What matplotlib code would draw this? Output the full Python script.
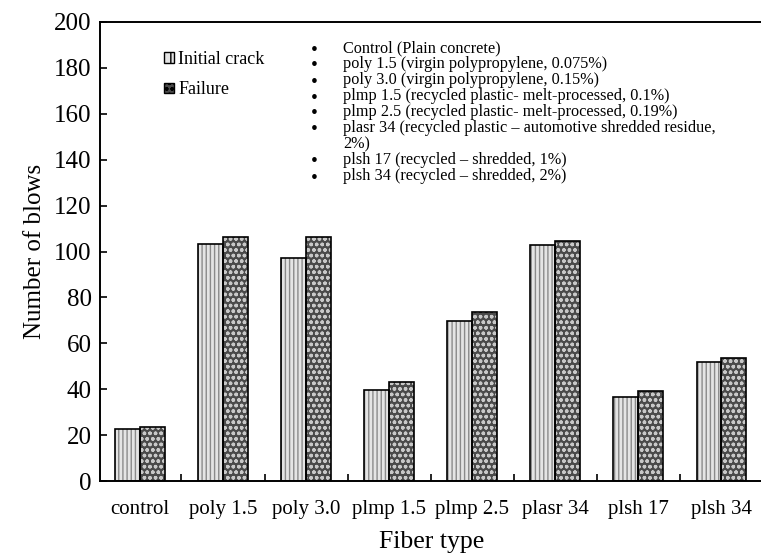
import matplotlib
matplotlib.use("Agg")
import matplotlib.pyplot as plt
import numpy as np
from matplotlib.patches import Patch

categories = ["control", "poly 1.5", "poly 3.0", "plmp 1.5", "plmp 2.5", "plasr 34", "plsh 17", "plsh 34"]
initial_crack = [22.6, 103.2, 97.2, 39.5, 69.6, 102.9, 36.8, 51.8]
failure = [23.5, 106.4, 106.4, 43.0, 73.7, 104.6, 39.3, 53.6]
yticks = list(range(0, 201, 20))
notes = [
    ("•", "Control (Plain concrete)"),
    ("•", "poly 1.5 (virgin polypropylene, 0.075%)"),
    ("•", "poly 3.0 (virgin polypropylene, 0.15%)"),
    ("•", "plmp 1.5 (recycled plastic- melt-processed, 0.1%)"),
    ("•", "plmp 2.5 (recycled plastic- melt-processed, 0.19%)"),
    ("•", "plasr 34 (recycled plastic \u2013 automotive shredded residue,"),
    ("", "2%)"),
    ("•", "plsh 17 (recycled \u2013 shredded, 1%)"),
    ("•", "plsh 34 (recycled \u2013 shredded, 2%)"),
]

plt.rcParams['font.family'] = ['Liberation Serif', 'DejaVu Serif']
plt.rcParams['hatch.linewidth'] = 1.0

W, H = 761, 554
fig = plt.figure(figsize=(W / 100, H / 100), dpi=100)
ax = fig.add_axes([100 / W, 73 / H, 663 / W, 459 / H])

x = np.arange(len(categories))
bw = 0.3

plt.rcParams['hatch.color'] = '#8a8a8a'
ax.bar(x - bw / 2, initial_crack, bw, color='#e4e4e4', hatch='||||', edgecolor='#8a8a8a', linewidth=0, zorder=2)
ax.bar(x - bw / 2, initial_crack, bw, fill=False, edgecolor='black', linewidth=1.2, zorder=3)
ax.bar(x + bw / 2, failure, bw, color='#4a4a4a', hatch='ooo', edgecolor='#c8c8c8', linewidth=0, zorder=2)
ax.bar(x + bw / 2, failure, bw, fill=False, edgecolor='black', linewidth=1.2, zorder=3)

ax.set_xlim(-0.48, 7.5)
ax.set_ylim(0, 200)
ax.set_yticks(yticks)
ax.set_xticks(x)
ax.set_xticklabels(categories)
ax.set_xticks(x[:-1] + 0.5, minor=True)
ax.tick_params(axis='x', which='major', length=0, pad=14, labelsize=15)
ax.tick_params(axis='x', which='minor', direction='in', length=5, width=1.2)
ax.tick_params(axis='y', direction='in', length=5, width=1.2, pad=6, labelsize=18)
for s in ax.spines.values():
    s.set_linewidth(1.4)

ax.set_xlabel("Fiber type", fontsize=18.5, labelpad=8)
ax.set_ylabel("Number of blows", fontsize=18, labelpad=6)

handles = [
    Patch(facecolor='#e4e4e4', edgecolor='black', hatch='||', linewidth=1.0),
    Patch(facecolor='#4a4a4a', edgecolor='black', hatch='ooo', linewidth=1.0),
]
leg = ax.legend(handles, ["Initial crack", "Failure"], loc='upper left',
                bbox_to_anchor=(0.085, 0.953), frameon=False, fontsize=13,
                handlelength=0.55, handleheight=0.55, handletextpad=0.25,
                labelspacing=0.75, borderaxespad=0)

y0 = 48
dy = 16
for i, (b, t) in enumerate(notes):
    yy = 1 - (y0 + i * dy) / H
    if b:
        fig.text(314 / W, yy - 2 / H, b, fontsize=14, ha='center', va='center')
    fig.text(343 / W, yy, t, fontsize=11.7, ha='left', va='center')

fig.savefig("out.png", dpi=100)
